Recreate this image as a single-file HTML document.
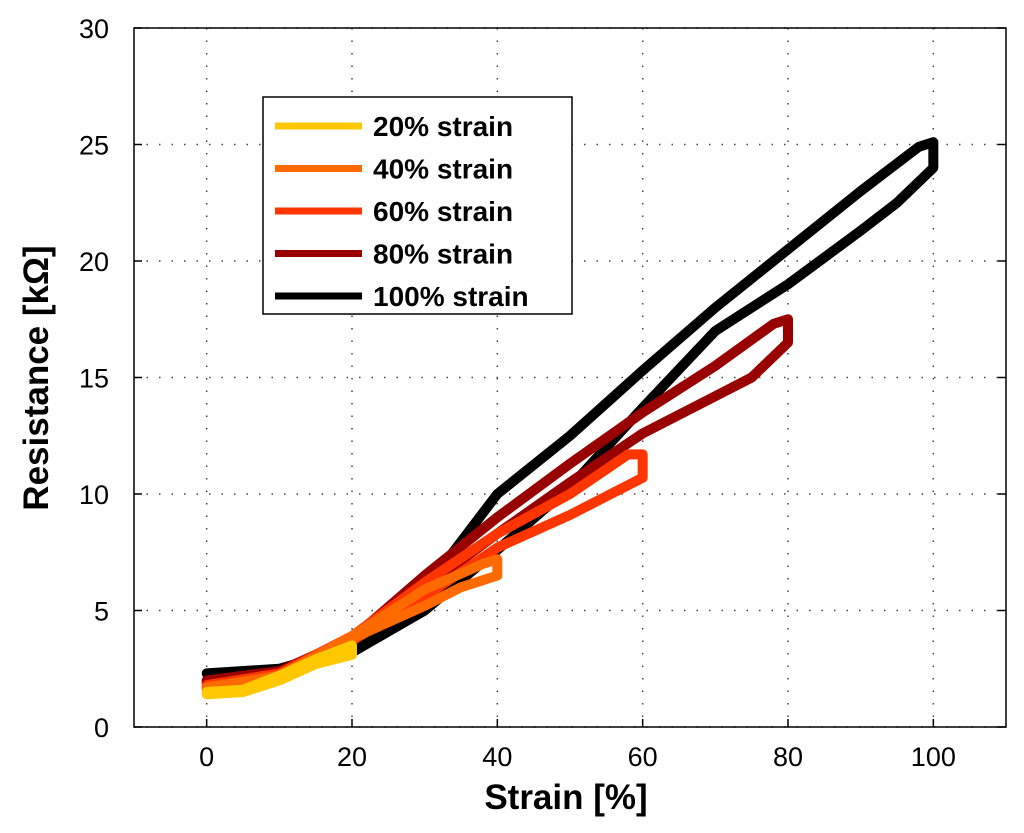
<!DOCTYPE html>
<html><head><meta charset="utf-8">
<style>
html,body{margin:0;padding:0;background:#fff;}
svg{display:block;font-family:"Liberation Sans",Arial,sans-serif;}
</style></head>
<body>
<svg id="chart" width="1024" height="833" viewBox="0 0 1024 833" xmlns="http://www.w3.org/2000/svg">
<g id="grid"></g>
<g id="series"></g>
<rect x="134" y="28" width="872" height="699" fill="none" stroke="#000" stroke-width="1.5"/>
<g id="ticks"></g>
<text x="566" y="809" font-size="35" font-weight="bold" text-anchor="middle">Strain [%]</text>
<text transform="translate(48,378) rotate(-90)" font-size="35" font-weight="bold" text-anchor="middle">Resistance [kΩ]</text>
<g id="legend"></g>
</svg>
<script>
const xTicks=[0,20,40,60,80,100];
const yTicks=[0,5,10,15,20,25,30];
const seriesNames=["20% strain","40% strain","60% strain","80% strain","100% strain"];
const seriesColors=["#FFC800","#FF6A00","#FF3500","#990000","#000000"];
const s20x=[0,5,10,15,20,20,15,10,5,0];
const s20y=[1.5,1.6,2.2,2.9,3.5,3.1,2.7,2.0,1.5,1.4];
const s40x=[0,10,20,30,38,40,40,35,30,20,10,0];
const s40y=[1.7,2.2,3.9,5.9,7.0,7.2,6.5,6.0,5.2,3.8,2.1,1.6];
const s60x=[0,10,20,30,40,50,58,60,60,55,50,40,30,20,10,0];
const s60y=[1.8,2.3,3.9,6.2,8.3,10.0,11.7,11.7,10.7,9.9,9.1,7.7,5.6,3.7,2.2,1.7];
const s80x=[0,10,20,30,40,50,60,70,78,80,80,75,70,60,50,40,30,20,10,0];
const s80y=[2.0,2.4,3.8,6.5,9.0,11.3,13.5,15.5,17.3,17.5,16.5,15.0,14.2,12.6,10.5,8.3,6.0,3.8,2.3,1.9];
const s100x=[0,10,20,30,40,50,60,70,80,90,98,100,100,95,90,80,70,60,50,40,30,20,10,0];
const s100y=[2.3,2.5,3.4,5.9,10.0,12.5,15.3,18.0,20.5,23.0,24.9,25.1,24.0,22.5,21.3,19.0,17.0,13.7,10.3,7.6,5.0,3.2,2.5,2.3];
const allX=[s20x,s40x,s60x,s80x,s100x], allY=[s20y,s40y,s60y,s80y,s100y];
const NS="http://www.w3.org/2000/svg";
const L=134,R=1006,T=28,B=727,xmin=-10,xmax=110,ymin=0,ymax=30;
const sx=v=>L+(v-xmin)/(xmax-xmin)*(R-L);
const sy=v=>B-(v-ymin)/(ymax-ymin)*(B-T);
function mk(tag,attrs,parent){const e=document.createElementNS(NS,tag);for(const k in attrs)e.setAttribute(k,attrs[k]);parent.appendChild(e);return e;}
const grid=document.getElementById('grid'),ticks=document.getElementById('ticks'),series=document.getElementById('series'),legend=document.getElementById('legend');
xTicks.forEach(v=>{
 const g=mk('line',{x1:sx(v),x2:sx(v),y1:T,y2:B,stroke:'#444','stroke-width':1.5,'stroke-dasharray':'1.5 11'},grid);
 
 
 mk('line',{x1:sx(v),x2:sx(v),y1:B,y2:B-8,stroke:'#000','stroke-width':1.5},ticks);
 const t=mk('text',{x:sx(v),y:B+39,'font-size':27,'text-anchor':'middle'},ticks);t.textContent=v;
 
 
});
yTicks.forEach(v=>{
 const g=mk('line',{x1:L,x2:R,y1:sy(v),y2:sy(v),stroke:'#444','stroke-width':1.5,'stroke-dasharray':'1.5 11'},grid);
 
 
 mk('line',{x1:L,x2:L+8,y1:sy(v),y2:sy(v),stroke:'#000','stroke-width':1.5},ticks);
 mk('line',{x1:R,x2:R-8,y1:sy(v),y2:sy(v),stroke:'#000','stroke-width':1.5},ticks);
 const t=mk('text',{x:L-25,y:sy(v)+10,'font-size':27,'text-anchor':'end'},ticks);t.textContent=v;
 
 
});
for(let i=allX.length-1;i>=0;i--){
 const pts=allX[i].map((x,j)=>sx(x)+','+sy(allY[i][j])).join(' ');
 const p=mk('polygon',{points:pts,fill:'none',stroke:seriesColors[i],'stroke-width':10,'stroke-linejoin':'round'},series);
 
 
}
const box=mk('rect',{x:263,y:97,width:309,height:217,fill:'#fff',stroke:'#000','stroke-width':1.5},legend);


seriesNames.forEach((n,i)=>{
 const y=126+i*42.5;
 mk('line',{x1:275,x2:362,y1:y,y2:y,stroke:seriesColors[i],'stroke-width':7},legend);
 const t=mk('text',{x:373,y:y+10,'font-size':28,'font-weight':'bold'},legend);t.textContent=n;
 
 
});
</script>
</body></html>
